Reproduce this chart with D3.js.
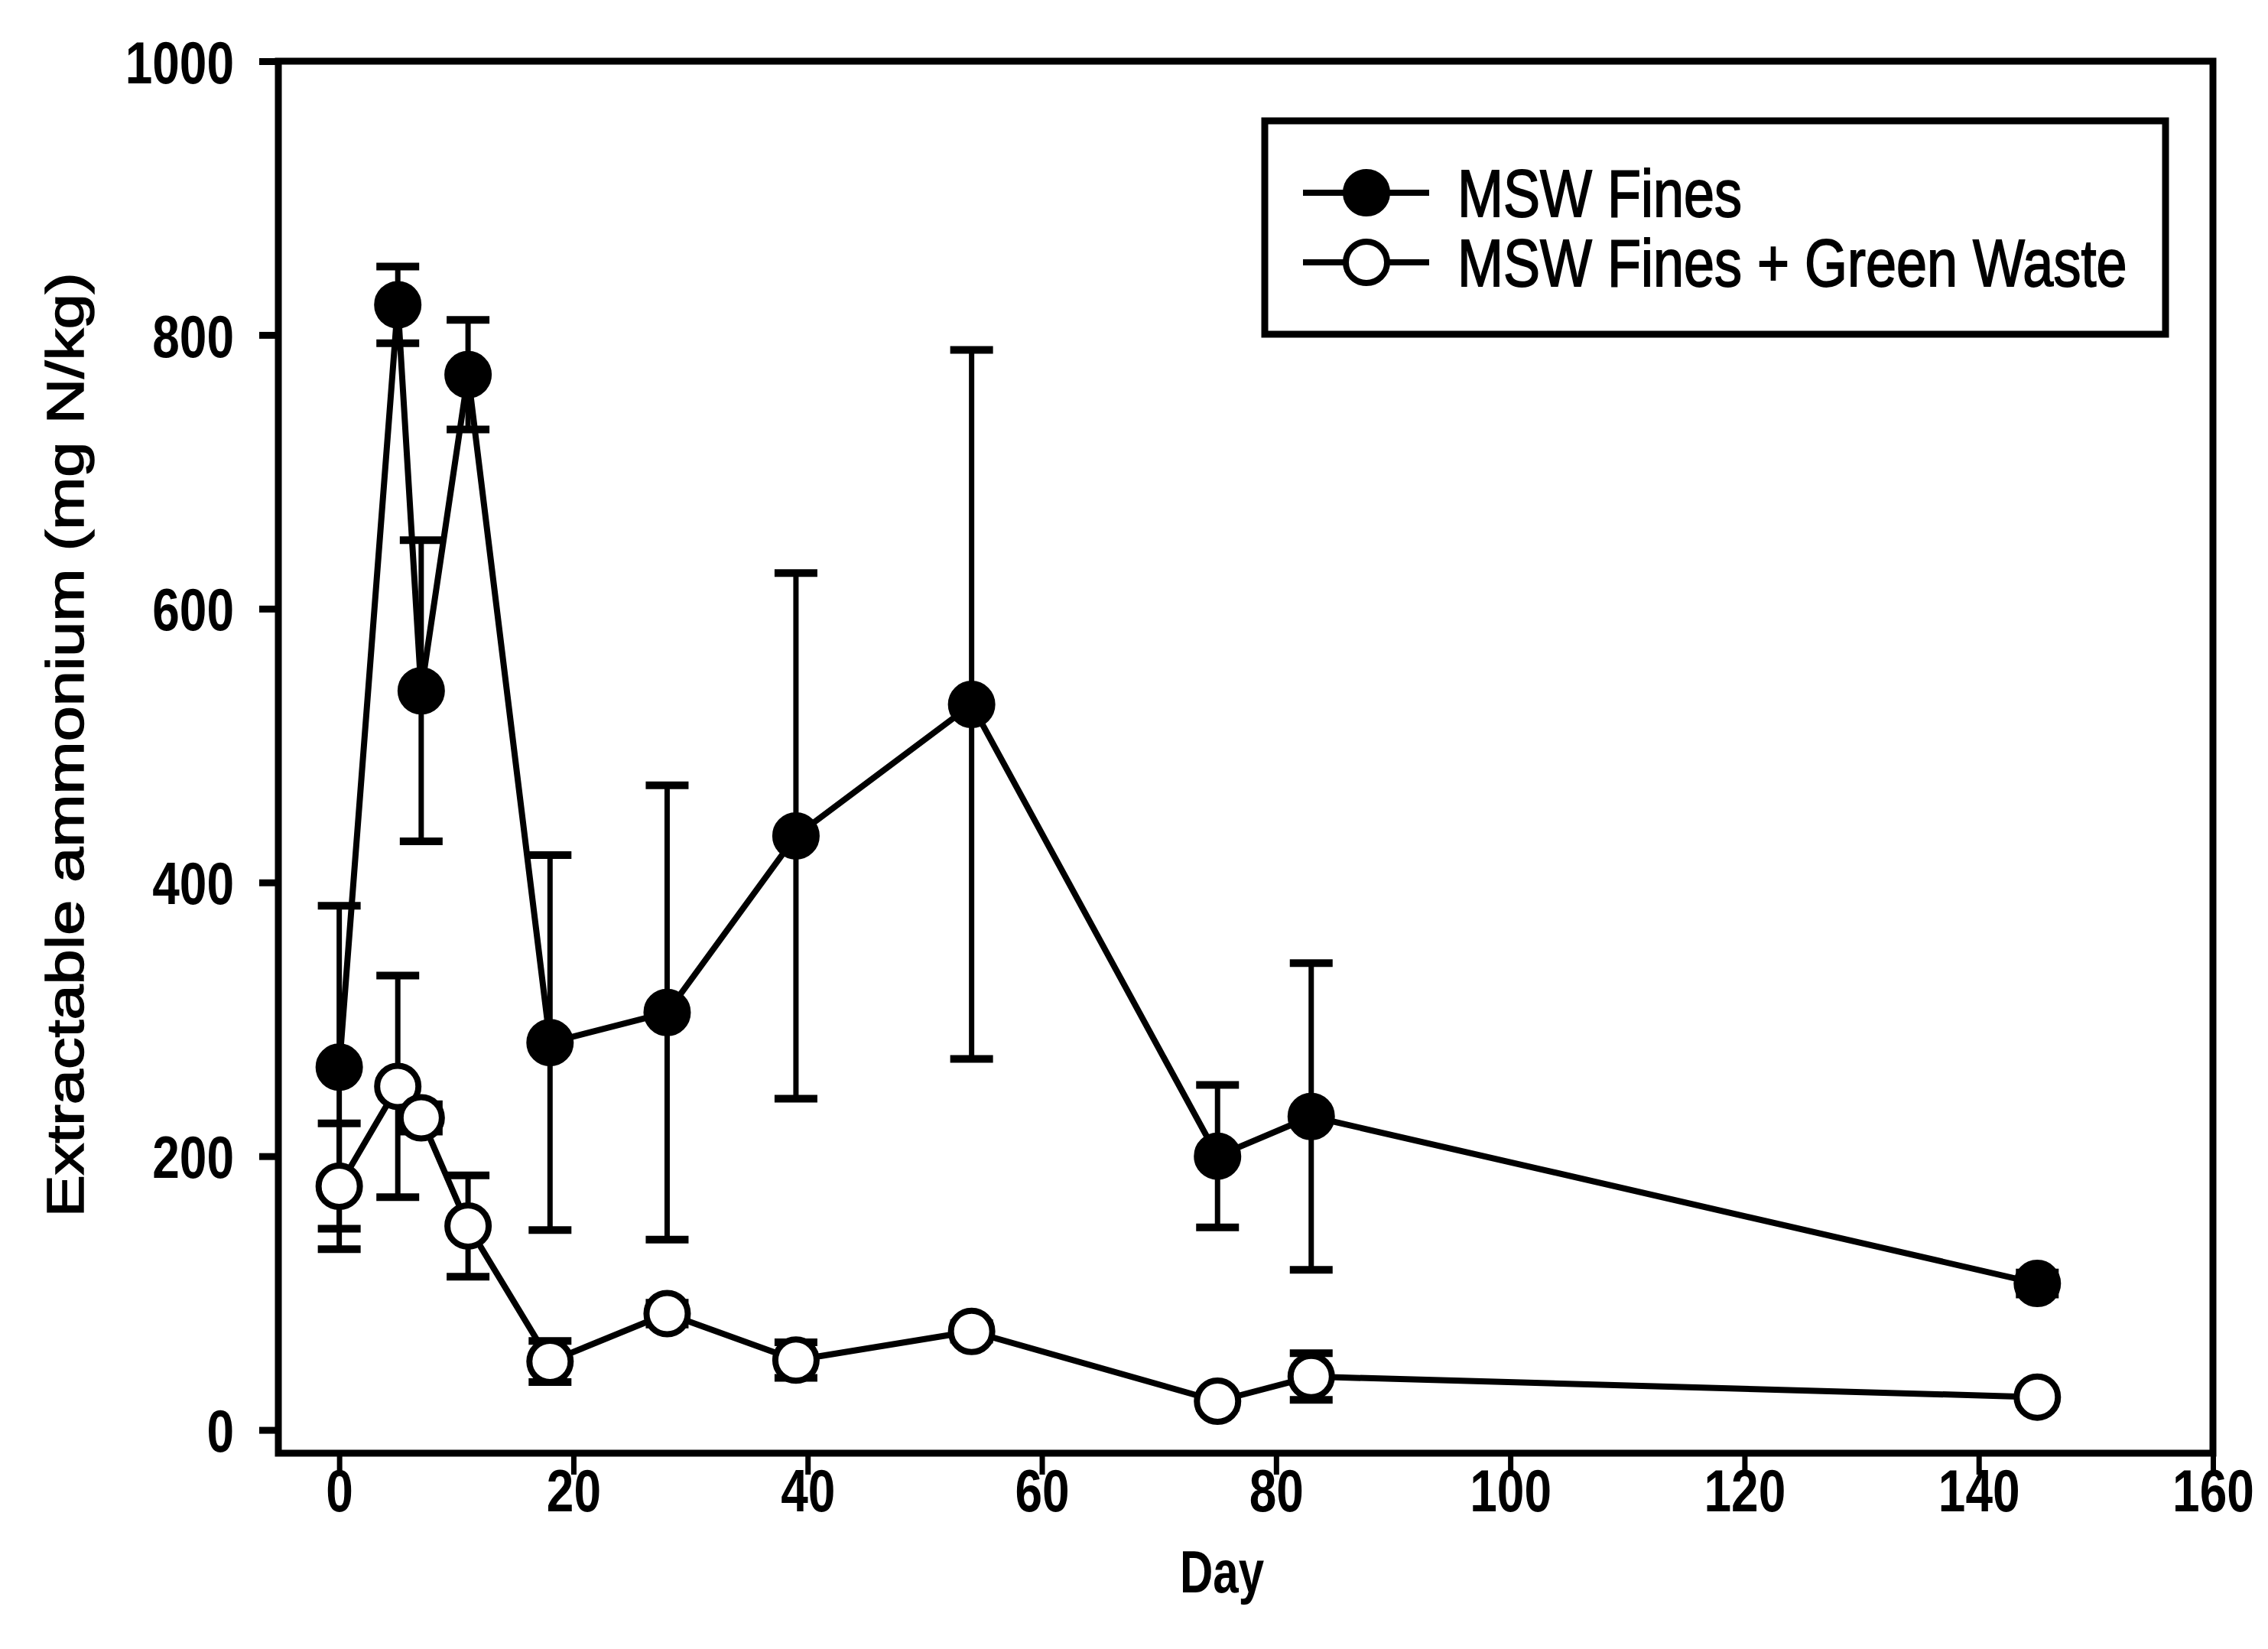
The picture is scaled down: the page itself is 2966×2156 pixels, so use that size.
<!DOCTYPE html>
<html>
<head>
<meta charset="utf-8">
<script src="https://cdn.jsdelivr.net/npm/d3@7"></script>
<style>
  html, body { margin: 0; padding: 0; background: #fff; }
  svg { display: block; }
  text { font-family: "Liberation Sans", Arial, Helvetica, sans-serif; fill: #000; }
</style>
</head>
<body>
<script>
// ---- data ----
const days = [0, 5, 7, 11, 18, 28, 39, 54, 75, 83, 145];
const mswFines = [265, 822, 540, 771, 283, 305, 434, 530, 200, 229, 107];
const mswFinesErr = [118, 28, 110, 40, 137, 166, 192, 259, 52, 112, 8];
const mswGreen = [178, 251, 228, 149, 50, 85, 51, 72, 21, 39, 24];
const mswGreenErr = [46, 81, 10, 37, 15, 8, 13, 6, 5, 17, 5];
const xTicks = [0, 20, 40, 60, 80, 100, 120, 140, 160];
const yTicks = [0, 200, 400, 600, 800, 1000];
const seriesNames = ["MSW Fines", "MSW Fines + Green Waste"];
const xTitle = "Day";
const yTitle = "Extractable ammonium (mg N/kg)";

// ---- layout ----
const W = 2966, H = 2156;
const pLeft = 364, pRight = 2894, pTop = 80, pBottom = 1900;
const SY = 1.22; // vertical stretch of the scanned text

const svg = d3.select("body").append("svg")
  .attr("width", W).attr("height", H);
svg.append("rect").attr("width", W).attr("height", H).attr("fill", "#fff");

const x = d3.scaleLinear().domain([-5.2, 160]).range([pLeft, pRight]);
const y = d3.scaleLinear().domain([-17, 1000]).range([pBottom, pTop]);

// frame
svg.append("rect")
  .attr("x", pLeft).attr("y", pTop)
  .attr("width", pRight - pLeft).attr("height", pBottom - pTop)
  .attr("fill", "none").attr("stroke", "#000").attr("stroke-width", 9);

// y axis
const yAxis = svg.append("g").attr("transform", `translate(${pLeft},0)`)
  .call(d3.axisLeft(y).tickValues(yTicks).tickSize(25).tickPadding(33).tickFormat(d3.format("d")));
yAxis.select(".domain").remove();
yAxis.selectAll(".tick line").attr("stroke", "#000").attr("stroke-width", 9);
yAxis.selectAll(".tick text")
  .attr("font-size", 64).attr("font-weight", "bold")
  .attr("y", null).attr("dy", "0.36em")
  .attr("transform", `scale(1,${SY})`);

// x axis
const xAxis = svg.append("g").attr("transform", `translate(0,${pBottom})`)
  .call(d3.axisBottom(x).tickValues(xTicks).tickSize(28).tickFormat(d3.format("d")));
xAxis.select(".domain").remove();
xAxis.selectAll(".tick line").attr("stroke", "#000").attr("stroke-width", 7);
xAxis.selectAll(".tick text")
  .attr("font-size", 64).attr("font-weight", "bold")
  .attr("y", 0).attr("dy", 0)
  .attr("transform", `translate(0,76) scale(1,${SY})`);

// axis titles
svg.append("text")
  .attr("transform", `translate(1598,2082) scale(1,1.3)`)
  .attr("text-anchor", "middle")
  .attr("font-size", 60).attr("font-weight", "bold")
  .text(xTitle);

svg.append("text")
  .attr("transform", `translate(85,974) scale(1,${SY}) rotate(-90)`)
  .attr("text-anchor", "middle").attr("dy", "0.35em")
  .attr("font-size", 68)
  .attr("stroke", "#000").attr("stroke-width", 1.5)
  .text(yTitle);

// series
const R = 27, CAP = 28;
function drawSeries(vals, errs, filled) {
  const g = svg.append("g");
  const data = days.map((d, i) => ({ d, v: vals[i], e: errs[i] }));
  const eb = g.selectAll(".eb").data(data).enter().append("g");
  eb.append("line")
    .attr("x1", p => x(p.d)).attr("x2", p => x(p.d))
    .attr("y1", p => y(p.v + p.e)).attr("y2", p => y(p.v - p.e))
    .attr("stroke", "#000").attr("stroke-width", 7);
  [1, -1].forEach(s => {
    eb.append("line")
      .attr("x1", p => x(p.d) - CAP).attr("x2", p => x(p.d) + CAP)
      .attr("y1", p => y(p.v + s * p.e)).attr("y2", p => y(p.v + s * p.e))
      .attr("stroke", "#000").attr("stroke-width", 10);
  });
  g.append("path")
    .attr("d", d3.line().x(p => x(p.d)).y(p => y(p.v))(data))
    .attr("fill", "none").attr("stroke", "#000").attr("stroke-width", 8)
    .attr("stroke-linejoin", "round");
  g.selectAll("circle").data(data).enter().append("circle")
    .attr("cx", p => x(p.d)).attr("cy", p => y(p.v)).attr("r", R)
    .attr("fill", filled ? "#000" : "#fff")
    .attr("stroke", "#000").attr("stroke-width", 8);
}
drawSeries(mswFines, mswFinesErr, true);
drawSeries(mswGreen, mswGreenErr, false);

// legend
const lg = svg.append("g");
lg.append("rect")
  .attr("x", 1654).attr("y", 158).attr("width", 2832 - 1654).attr("height", 437 - 158)
  .attr("fill", "#fff").attr("stroke", "#000").attr("stroke-width", 9);
const rows = [252, 343];
seriesNames.forEach((name, i) => {
  const yy = rows[i];
  lg.append("line").attr("x1", 1704).attr("x2", 1869).attr("y1", yy).attr("y2", yy)
    .attr("stroke", "#000").attr("stroke-width", 8);
  lg.append("circle").attr("cx", 1787).attr("cy", yy).attr("r", R)
    .attr("fill", i === 0 ? "#000" : "#fff").attr("stroke", "#000").attr("stroke-width", 8);
  lg.append("text")
    .attr("transform", `translate(1906,${yy + 31}) scale(1,1.2)`)
    .attr("font-size", 72)
    .attr("stroke", "#000").attr("stroke-width", 1.5)
    .text(name);
});
</script>
</body>
</html>
